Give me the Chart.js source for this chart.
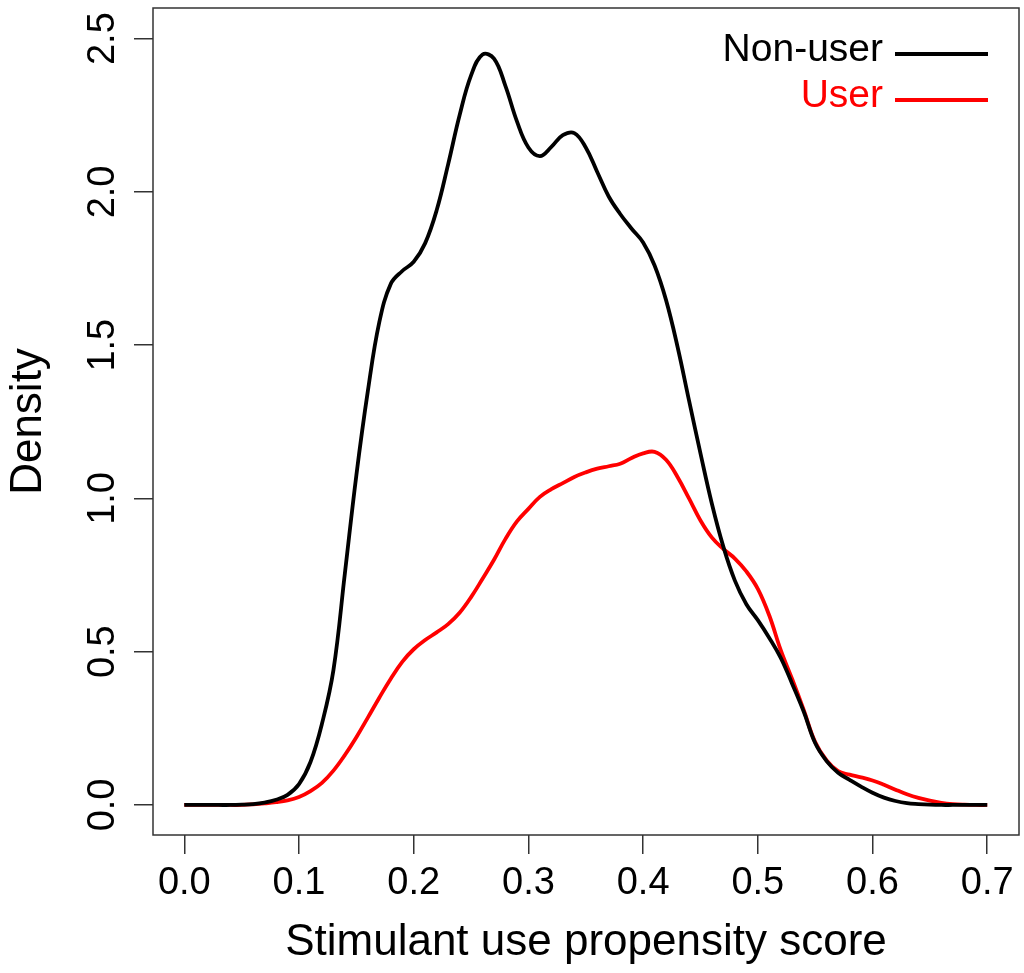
<!DOCTYPE html>
<html>
<head>
<meta charset="utf-8">
<script src="https://cdn.jsdelivr.net/npm/chart.js@4/dist/chart.umd.min.js"></script>
<style>
  body { margin: 0; background: #fff; }
  canvas { display: block; }
</style>
</head>
<body>
<canvas id="grafico" width="1024" height="973"></canvas>
<script>
// puntuacion de propension (eje x)
const puntuaciones = [
  0.00, 0.01, 0.02, 0.03, 0.04, 0.05, 0.06, 0.07, 0.08, 0.09,
  0.10, 0.11, 0.12, 0.13, 0.14, 0.15, 0.16, 0.17, 0.18, 0.19,
  0.20, 0.21, 0.22, 0.23, 0.24, 0.25, 0.26, 0.27, 0.28, 0.29,
  0.30, 0.31, 0.32, 0.33, 0.34, 0.35, 0.36, 0.37, 0.38, 0.39,
  0.40, 0.41, 0.42, 0.43, 0.44, 0.45, 0.46, 0.47, 0.48, 0.49,
  0.50, 0.51, 0.52, 0.53, 0.54, 0.55, 0.56, 0.57, 0.58, 0.59,
  0.60, 0.61, 0.62, 0.63, 0.64, 0.65, 0.66, 0.67, 0.68, 0.69, 0.70
]

// densidad
const densidadNoUsuario = [
  0, 0, 0, 0, 0, 0.001, 0.003, 0.008, 0.017, 0.033,
  0.068, 0.14, 0.265, 0.44, 0.756, 1.076, 1.35, 1.575, 1.70, 1.742,
  1.772, 1.833, 1.94, 2.09, 2.25, 2.38, 2.448, 2.435, 2.345, 2.23,
  2.145, 2.117, 2.147, 2.185, 2.192, 2.145, 2.065, 1.985, 1.928, 1.88,
  1.835, 1.76, 1.647, 1.495, 1.32, 1.147, 0.982, 0.842, 0.732, 0.655,
  0.603, 0.545, 0.48, 0.395, 0.305, 0.202, 0.143, 0.105, 0.082, 0.06,
  0.04, 0.024, 0.013, 0.006, 0.003, 0.001, 0, 0, 0, 0, 0
]

const densidadUsuario = [
  0, 0, 0, 0, 0, 0, 0.002, 0.005, 0.009, 0.015,
  0.026, 0.045, 0.072, 0.112, 0.163, 0.221, 0.285, 0.35, 0.412, 0.467,
  0.508, 0.538, 0.563, 0.59, 0.627, 0.678, 0.738, 0.8, 0.868, 0.925,
  0.966, 1.005, 1.03, 1.05, 1.07, 1.085, 1.097, 1.105, 1.113, 1.132,
  1.147, 1.152, 1.126, 1.07, 1.0, 0.928, 0.872, 0.835, 0.804, 0.762,
  0.705, 0.618, 0.505, 0.41, 0.31, 0.205, 0.145, 0.11, 0.099, 0.09,
  0.08, 0.066, 0.05, 0.035, 0.023, 0.014, 0.007, 0.003, 0.001, 0, 0
]

const etiquetasX = ['0.0', '0.1', '0.2', '0.3', '0.4', '0.5', '0.6', '0.7']
const etiquetasY = ['0.0', '0.5', '1.0', '1.5', '2.0', '2.5']

const series = ['Non-user', 'User']
const colores = ['#000000', '#ff0000']

const fuente = '"Liberation Sans", Arial, Helvetica, sans-serif'
const colorEje = '#333333'

const aPuntos = (ys) => puntuaciones.map((x, i) => ({ x: x, y: ys[i] }))

// marco, etiquetas del eje y (giradas) y leyenda estilo R
const pluginR = {
  id: 'pluginR',
  afterDraw: (chart) => {
    const { ctx, chartArea } = chart
    const escalaY = chart.scales.y
    ctx.save()
    ctx.strokeStyle = colorEje
    ctx.lineWidth = 1.5
    ctx.strokeRect(chartArea.left, chartArea.top, chartArea.right - chartArea.left, chartArea.bottom - chartArea.top)

    ctx.fillStyle = '#000'
    ctx.font = `38px ${fuente}`
    ctx.textAlign = 'center'
    ctx.textBaseline = 'middle'
    etiquetasY.forEach(txt => {
      const py = escalaY.getPixelForValue(parseFloat(txt))
      ctx.save()
      ctx.translate(104, py)
      ctx.rotate(-Math.PI / 2)
      ctx.fillText(txt, 0, 0)
      ctx.restore()
    })

    // leyenda
    ctx.font = `39px ${fuente}`
    ctx.textAlign = 'right'
    ctx.textBaseline = 'alphabetic'
    ctx.lineWidth = 3.8
    series.forEach((nombre, i) => {
      const yLinea = 54 + i * 46
      ctx.fillStyle = colores[i]
      ctx.fillText(nombre, 883, yLinea + 7)
      ctx.strokeStyle = colores[i]
      ctx.beginPath()
      ctx.moveTo(895, yLinea)
      ctx.lineTo(988, yLinea)
      ctx.stroke()
    })
    ctx.restore()
  }
}

const ctx = document.getElementById('grafico')
const config = {
  type: 'scatter',
  data: {
    datasets: [
      {
        label: series[0],
        data: aPuntos(densidadNoUsuario),
        showLine: true,
        borderColor: colores[0],
        borderWidth: 3.8,
        pointRadius: 0,
        tension: 0.4
      },
      {
        label: series[1],
        data: aPuntos(densidadUsuario),
        showLine: true,
        borderColor: colores[1],
        borderWidth: 3.8,
        pointRadius: 0,
        tension: 0.4
      }
    ]
  },
  options: {
    responsive: false,
    animation: false,
    layout: { padding: { top: 8, right: 5, left: 0, bottom: 0 } },
    plugins: {
      legend: { display: false },
      tooltip: { enabled: false }
    },
    scales: {
      x: {
        type: 'linear',
        min: -0.0273,
        max: 0.7277,
        afterBuildTicks: (scale) => {
          scale.ticks = etiquetasX.map(t => ({ value: parseFloat(t) }))
        },
        afterFit: (scale) => { scale.height = 138 },
        ticks: {
          color: '#000',
          font: { family: fuente, size: 38 },
          padding: 7,
          maxRotation: 0,
          callback: (v) => v.toFixed(1)
        },
        grid: {
          drawOnChartArea: false,
          drawTicks: true,
          tickLength: 19,
          color: colorEje,
          lineWidth: 1.5
        },
        border: { display: false },
        title: {
          display: true,
          text: 'Stimulant use propensity score',
          color: '#000',
          font: { family: fuente, size: 44 },
          padding: { top: 0, bottom: 4 }
        }
      },
      y: {
        type: 'linear',
        min: -0.098,
        max: 2.6,
        afterBuildTicks: (scale) => {
          scale.ticks = etiquetasY.map(t => ({ value: parseFloat(t) }))
        },
        afterFit: (scale) => { scale.width = 153 },
        ticks: { display: false },
        grid: {
          drawOnChartArea: false,
          drawTicks: true,
          tickLength: 19,
          color: colorEje,
          lineWidth: 1.5
        },
        border: { display: false },
        title: {
          display: true,
          text: 'Density',
          color: '#000',
          font: { family: fuente, size: 44 },
          padding: { top: 2, bottom: 0 }
        }
      }
    }
  },
  plugins: [pluginR]
}

new Chart(ctx, config)
</script>
</body>
</html>
